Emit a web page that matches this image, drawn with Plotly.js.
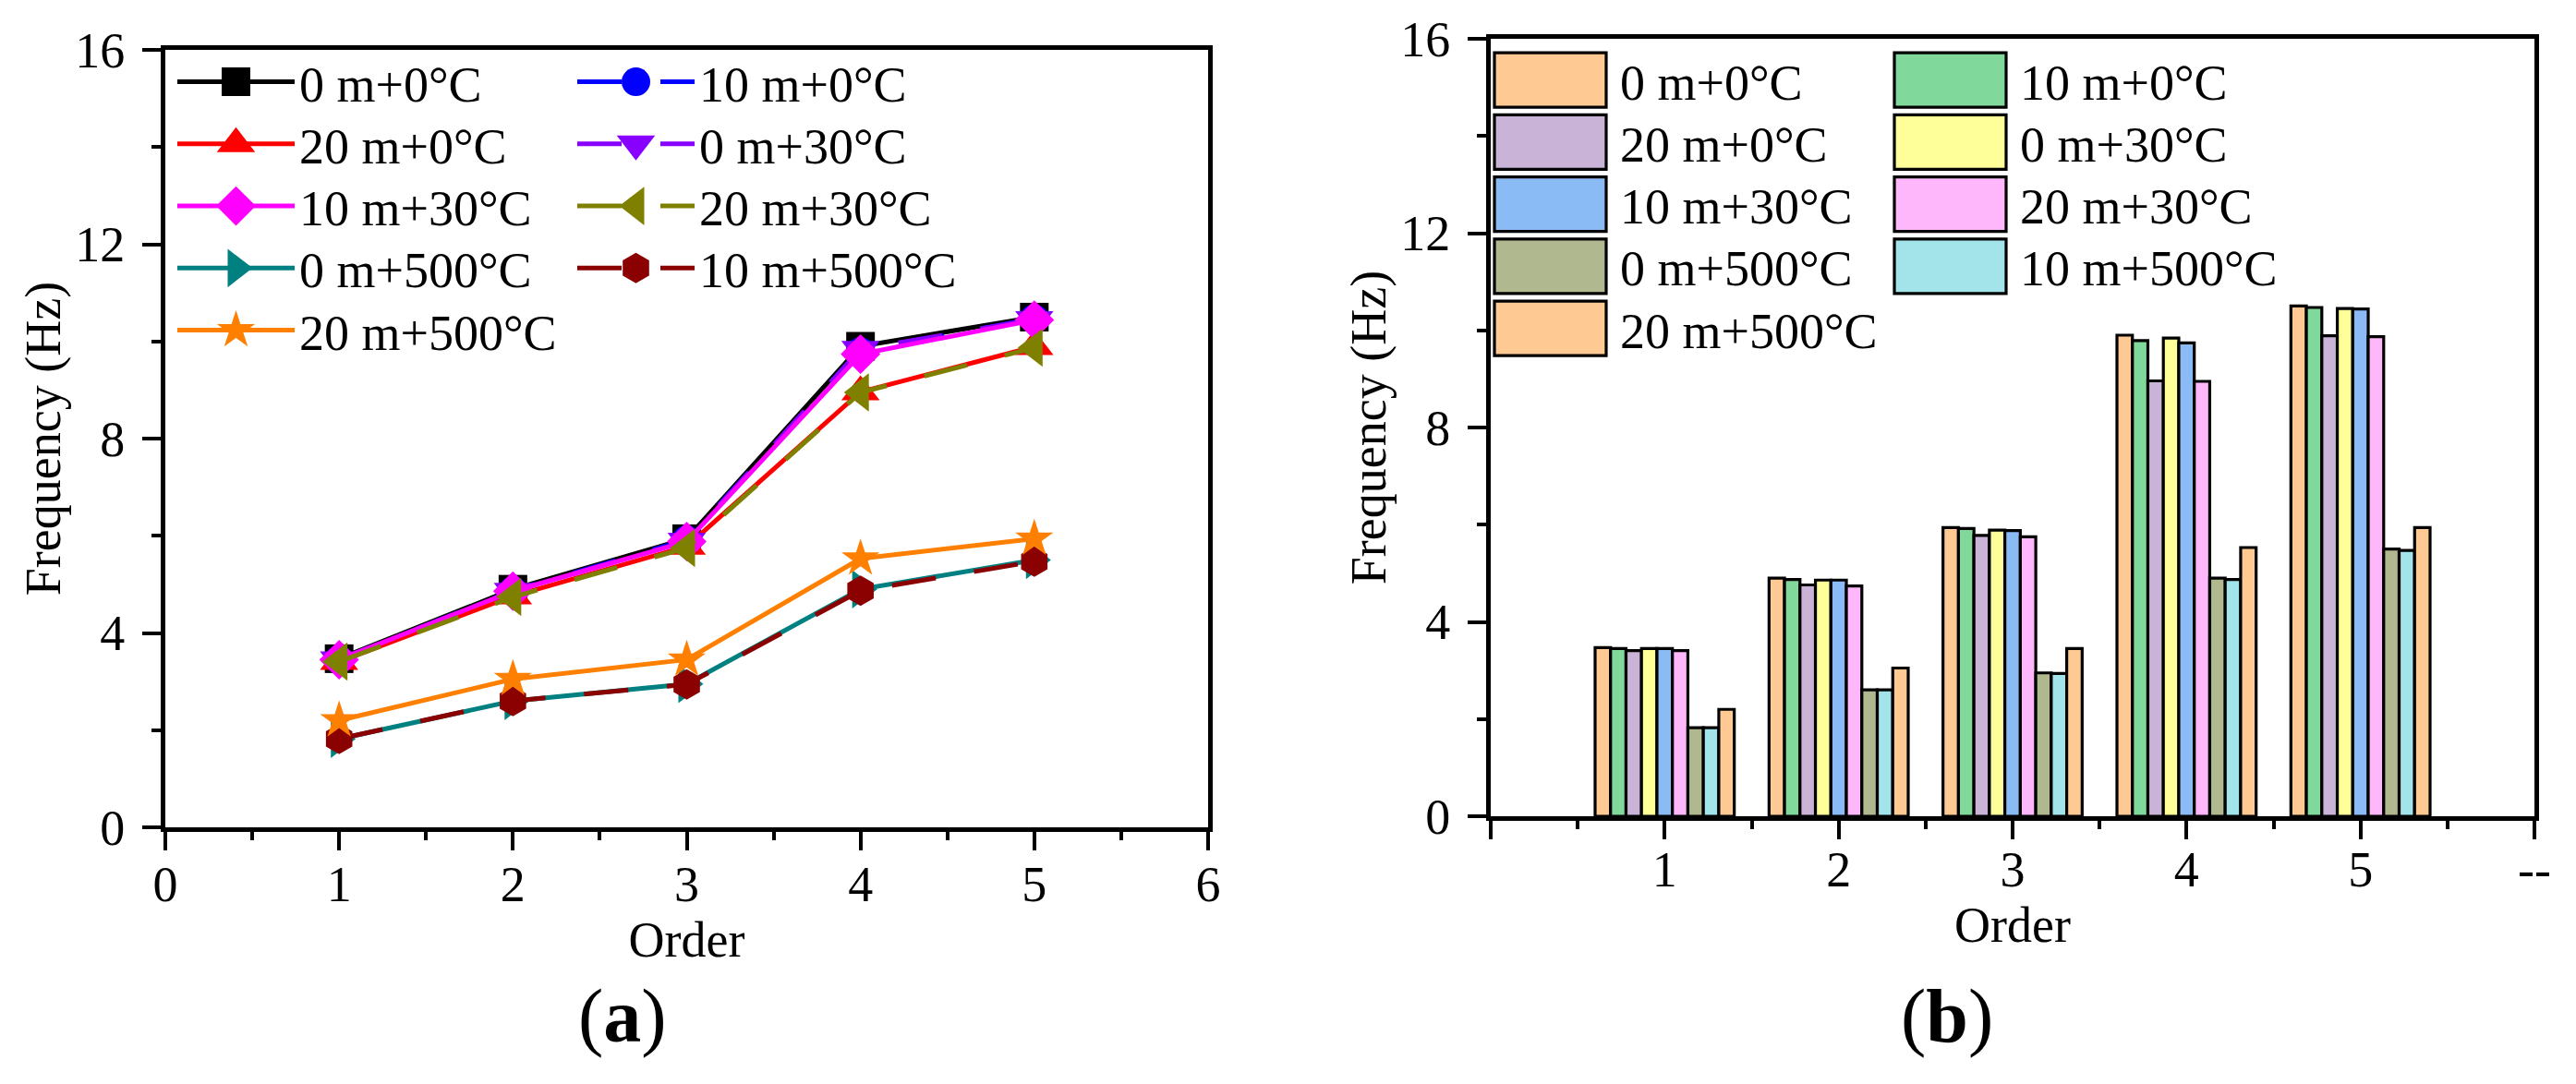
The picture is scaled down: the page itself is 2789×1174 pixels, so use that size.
<!DOCTYPE html>
<html><head><meta charset="utf-8">
<script src="https://cdn.plot.ly/plotly-3.0.1.min.js"></script>
<style>html,body{margin:0;padding:0;background:#fff}#chart{width:2789px;height:1174px}</style>
</head><body><div id="chart"></div>
<script>
// ---- data ----
const orders = [1, 2, 3, 4, 5];
const seriesNames = ['0 m+0°C', '10 m+0°C', '20 m+0°C', '0 m+30°C', '10 m+30°C', '20 m+30°C', '0 m+500°C', '10 m+500°C', '20 m+500°C'];
const f_0m_0C    = [3.47, 4.90, 5.94, 9.90, 10.50];
const f_10m_0C   = [3.45, 4.87, 5.92, 9.79, 10.47];
const f_20m_0C   = [3.41, 4.76, 5.78, 8.96, 9.89];
const f_0m_30C   = [3.45, 4.86, 5.89, 9.84, 10.45];
const f_10m_30C  = [3.45, 4.86, 5.88, 9.74, 10.44];
const f_20m_30C  = [3.41, 4.74, 5.75, 8.95, 9.87];
const f_0m_500C  = [1.82, 2.60, 2.95, 4.90, 5.50];
const f_10m_500C = [1.82, 2.60, 2.94, 4.87, 5.47];
const f_20m_500C = [2.20, 3.05, 3.45, 5.53, 5.94];
const lineTickVals = [0, 1, 2, 3, 4, 5, 6];
const barTickVals = [0, 1, 2, 3, 4, 5, 6];
const barTickText = ['', '1', '2', '3', '4', '5', '--'];
const yTickVals = [0, 4, 8, 12, 16];

// ---- styles ----
const seriesValues = [f_0m_0C, f_10m_0C, f_20m_0C, f_0m_30C, f_10m_30C, f_20m_30C, f_0m_500C, f_10m_500C, f_20m_500C];
const lineColors = ['#000000', '#0000FF', '#FF0000', '#8800FF', '#FF00FF', '#808000', '#008080', '#8B0000', '#FF8000'];
const lineSymbols = ['square', 'circle', 'triangle-up', 'triangle-down', 'diamond', 'triangle-left', 'triangle-right', 'hexagon', 'star'];
const lineDash = ['solid', '48px,42px', 'solid', '48px,42px', 'solid', '48px,42px', 'solid', '48px,42px', 'solid'];
const markerSizes = [31, 31, 36, 36, 33, 36, 36, 33, 31];
const barColors = ['#FFC994', '#80D99B', '#C9B4D7', '#FFFF99', '#8BBBF5', '#FDB7FA', '#B0B890', '#A2E4EA', '#FFC994'];

const FONT = '"Liberation Serif", "Times New Roman", serif';
const W = 2789, H = 1174;
const ROW_STEP = 67.25;

const traces = [];
seriesNames.forEach((name, i) => {
  traces.push({
    type: 'scatter', mode: 'lines+markers', name: name,
    x: orders, y: seriesValues[i], xaxis: 'x', yaxis: 'y',
    line: {color: lineColors[i], width: 5, dash: lineDash[i]},
    marker: {symbol: lineSymbols[i], size: markerSizes[i], color: lineColors[i]},
    legend: (i % 2 === 0) ? 'legend' : 'legend2'
  });
});
seriesNames.forEach((name, i) => {
  traces.push({
    type: 'bar', name: name,
    x: orders, y: seriesValues[i], xaxis: 'x2', yaxis: 'y2',
    marker: {color: barColors[i], line: {color: '#000', width: 3.2}},
    legend: (i % 2 === 0) ? 'legend3' : 'legend4'
  });
});

function axisBase() {
  return {
    showline: true, mirror: true, linecolor: '#000', linewidth: 5,
    showgrid: false, zeroline: false,
    ticks: 'outside', ticklen: 20, tickwidth: 4, tickcolor: '#000',
    tickfont: {family: FONT, size: 54, color: '#000'},
    title: {font: {family: FONT, size: 54, color: '#000'}},
    fixedrange: true
  };
}

const xa = Object.assign(axisBase(), {
  domain: [179 / W, 1308 / W], range: [0, 6], tickmode: 'array', tickvals: lineTickVals,
  minor: {dtick: 0.5, tick0: 0, ticks: 'outside', ticklen: 9, tickwidth: 4, tickcolor: '#000'},
  anchor: 'y', ticklabelstandoff: -10
});
xa.title.text = 'Order'; xa.title.standoff = 2;

const ya = Object.assign(axisBase(), {
  domain: [(H - 896) / H, (H - 54) / H], range: [0, 16], tickmode: 'array', tickvals: yTickVals,
  minor: {dtick: 2, tick0: 0, ticks: 'outside', ticklen: 10, tickwidth: 4, tickcolor: '#000'},
  anchor: 'x', ticklabelstandoff: 8
});
ya.title.text = 'Frequency (Hz)'; ya.title.standoff = 0;

const xa2 = Object.assign(axisBase(), {
  domain: [1614 / W, 2744 / W], range: [0, 6], tickmode: 'array', tickvals: barTickVals, ticktext: barTickText,
  minor: {tickmode: 'array', tickvals: [0.5, 1.5, 2.5, 3.5, 4.5, 5.5], ticks: 'outside', ticklen: 9, tickwidth: 4, tickcolor: '#000'},
  anchor: 'y2', ticklabelstandoff: -14
});
xa2.title.text = 'Order'; xa2.title.standoff = 0;

const ya2 = Object.assign(axisBase(), {
  domain: [(H - 884) / H, (H - 42) / H], range: [0, 16], tickmode: 'array', tickvals: yTickVals,
  minor: {dtick: 2, tick0: 0, ticks: 'outside', ticklen: 10, tickwidth: 4, tickcolor: '#000'},
  anchor: 'x2', ticklabelstandoff: 8
});
ya2.title.text = 'Frequency (Hz)'; ya2.title.standoff = 0;

function legendBase(x, y, iw) {
  return {
    x: x, y: y, xanchor: 'left', yanchor: 'top', xref: 'paper', yref: 'paper',
    bgcolor: 'rgba(0,0,0,0)', borderwidth: 0, orientation: 'v',
    itemwidth: iw, tracegroupgap: 0,
    font: {family: FONT, size: 54, color: '#000'}
  };
}

const layout = {
  width: W, height: H,
  margin: {l: 0, r: 0, t: 0, b: 0},
  paper_bgcolor: '#fff', plot_bgcolor: 'rgba(0,0,0,0)',
  font: {family: FONT, size: 54, color: '#000'},
  xaxis: xa, yaxis: ya, xaxis2: xa2, yaxis2: ya2,
  barmode: 'group', bargap: 0.2, bargroupgap: 0,
  showlegend: true,
  legend: legendBase(187 / W, 1 - 47 / H, 127),
  legend2: legendBase(620 / W, 1 - 47 / H, 127),
  legend3: legendBase(1603 / W, 1 - 45 / H, 141),
  legend4: legendBase(2036 / W, 1 - 45 / H, 141),
  annotations: [
    {text: '(<b>a</b>)', x: 674 / W, y: 1 - 1100 / H, xref: 'paper', yref: 'paper', xanchor: 'center', yanchor: 'middle', showarrow: false, font: {family: FONT, size: 82, color: '#000'}},
    {text: '(<b>b</b>)', x: 2108 / W, y: 1 - 1100 / H, xref: 'paper', yref: 'paper', xanchor: 'center', yanchor: 'middle', showarrow: false, font: {family: FONT, size: 82, color: '#000'}}
  ]
};

function parseTranslate(t) {
  const m = /translate\(\s*([-\d.eE]+)[\s,]+([-\d.eE]+)\s*\)/.exec(t || '');
  return m ? [parseFloat(m[1]), parseFloat(m[2])] : null;
}

function tweakLegends(gd) {
  // legend rows: row pitch like the reference
  gd.querySelectorAll('g.scrollbox').forEach(function (sb) {
    const items = sb.querySelectorAll('g.traces');
    let y0 = null;
    items.forEach(function (g, i) {
      const tr = parseTranslate(g.getAttribute('transform'));
      if (!tr) return;
      if (y0 === null) y0 = tr[1];
      g.setAttribute('transform', 'translate(' + tr[0] + ',' + (y0 + i * ROW_STEP) + ')');
    });
  });
  // legend symbols: large swatches for bars, larger markers for lines
  gd.querySelectorAll('g.traces').forEach(function (g) {
    const cd = g.__data__ && g.__data__[0];
    const tr = cd && cd.trace;
    if (!tr) return;
    if (tr.type === 'bar') {
      g.querySelectorAll('g.legendpoints path').forEach(function (p) {
        p.setAttribute('d', 'M60.5,29.5H-60.5V-29.5H60.5Z');
      });
    } else if (tr.type === 'scatter') {
      const k = (tr.marker && tr.marker.size ? tr.marker.size : 31) / 16;
      g.querySelectorAll('g.legendpoints path').forEach(function (p) {
        if (p.classList.contains('js-line')) return;
        const d = p.getAttribute('d') || '';
        if (/^M5,0h/.test(d)) return;
        const t = (p.getAttribute('transform') || '').replace(/\s*scale\([^)]*\)/g, '');
        p.setAttribute('transform', t + ' scale(' + k.toFixed(3) + ')');
      });
    }
  });
}

Plotly.newPlot('chart', traces, layout, {displayModeBar: false}).then(function (gd) {
  tweakLegends(gd);
  gd.on('plotly_afterplot', function () { tweakLegends(gd); });
  setTimeout(function () { tweakLegends(gd); }, 50);
  setTimeout(function () { tweakLegends(gd); }, 300);
});
</script>
</body></html>
